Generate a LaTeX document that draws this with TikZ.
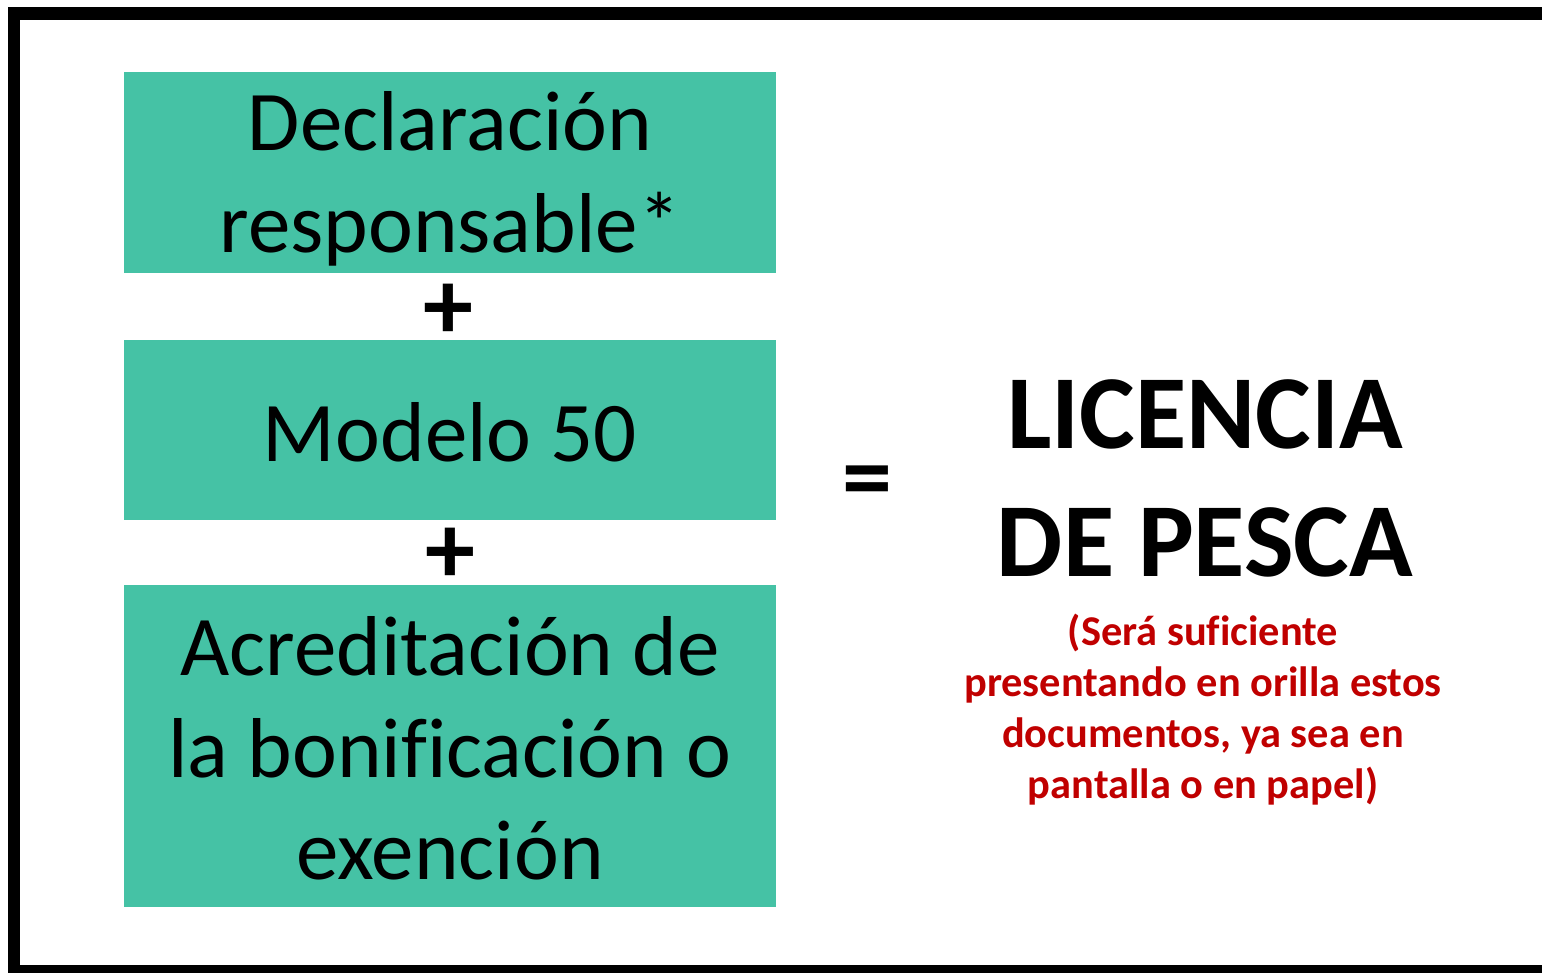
\documentclass[tikz,border=0pt]{standalone}
\usepackage{fontspec}
\setmainfont{Carlito}[Ligatures=NoCommon]
\definecolor{boxgreen}{HTML}{45C2A5}
\definecolor{notered}{HTML}{C00000}
\tikzset{
  docbox/.style={fill=boxgreen, draw=none},
  boxtext/.style={align=center, inner sep=0pt, font=\fontsize{85}{102}\selectfont},
  optext/.style={inner sep=0pt, font=\bfseries\fontsize{100}{100}\selectfont},
  bigtext/.style={align=center, inner sep=0pt, font=\bfseries\fontsize{105}{128}\selectfont},
  notetext/.style={align=center, inner sep=0pt, text=notered, font=\bfseries\fontsize{42.4}{51}\selectfont},
}
\begin{document}
\begin{tikzpicture}[x=1pt,y=-1pt]
\useasboundingbox (0,0) rectangle (1542,973);
\begin{scope}
\clip (0,0) rectangle (1542,973);
\draw[line width=12.5pt] (14,1000) -- (14,13.5) -- (1600,13.5);
\draw[line width=12.5pt] (14,971.5) -- (1600,971.5);
\end{scope}
\fill[docbox] (124,72) rectangle (776,273);
\fill[docbox] (124,340) rectangle (776,520);
\fill[docbox] (124,585) rectangle (776,907);
\node[boxtext] (b1) at (450,179) {Declaración\\responsable*};
\node[boxtext] (b2) at (450,432) {Modelo 50};
\node[boxtext] (b3) at (450,748) {Acreditación de\\la bonificación o\\exención};
\node[optext] (p1) at (448,312) {+};
\node[optext] (p2) at (450,556) {+};
\node[optext] (eq) at (867,488) {=};
\node[bigtext] (lic) at (1205,478) {LICENCIA\\DE PESCA};
\node[notetext] (note) at (1203,710) {(Será suficiente\\presentando en orilla estos\\documentos, ya sea en\\pantalla o en papel)};
\end{tikzpicture}
\end{document}
